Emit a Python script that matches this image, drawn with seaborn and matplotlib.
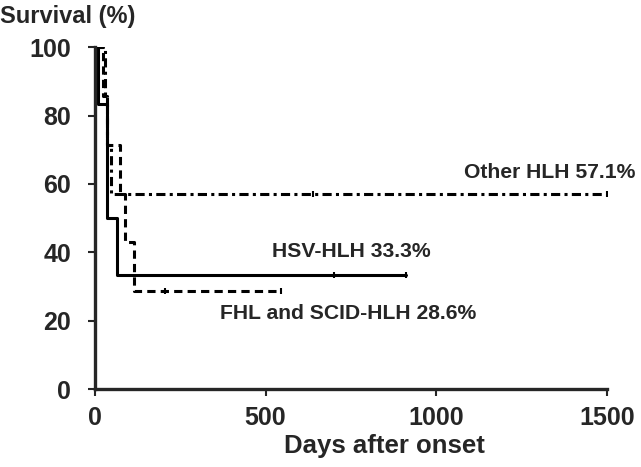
import matplotlib
matplotlib.use("Agg")
import matplotlib.pyplot as plt
import pandas as pd
import seaborn as sns

# Kaplan-Meier step points (days, survival %)
hsv_days = [0, 9, 35, 64, 910]
hsv_surv = [100, 83.3, 50, 33.3, 33.3]
hsv_cens_days = [700, 910]
hsv_cens_surv = [33.3, 33.3]

fhl_days = [0, 25, 35, 73, 88, 114, 545]
fhl_surv = [100, 85.7, 71.4, 57.1, 42.9, 28.6, 28.6]
fhl_cens_days = [205, 545]
fhl_cens_surv = [28.6, 28.6]

other_days = [0, 30, 35, 48, 1500]
other_surv = [100, 85.7, 71.4, 57.1, 57.1]
other_cens_days = [640, 1500]
other_cens_surv = [57.1, 57.1]

x_ticks = [0, 500, 1000, 1500]
y_ticks = [0, 20, 40, 60, 80, 100]

sns.set_style("white")
plt.rcParams['font.family'] = ['Liberation Sans', 'DejaVu Sans']
plt.rcParams['font.weight'] = 'bold'


def km_frame(days, surv, name):
    return pd.DataFrame({'day': days, 'surv': surv, 'group': name})


def main():
    fig = plt.figure(figsize=(6.41, 4.67), dpi=100)
    ax = fig.add_axes([0.148, 0.167, 0.799, 0.732])

    curves = [
        (hsv_days, hsv_surv, hsv_cens_days, hsv_cens_surv, '-', 'HSV'),
        (fhl_days, fhl_surv, fhl_cens_days, fhl_cens_surv, (0, (2.7, 1.7)), 'FHL'),
        (other_days, other_surv, other_cens_days, other_cens_surv,
         (0, (3, 1.4, 1, 1.4)), 'Other'),
    ]
    for days, surv, cd, cs, ls, name in curves:
        df = km_frame(days, surv, name)
        sns.lineplot(data=df, x='day', y='surv', ax=ax, color='black',
                     linewidth=2.2, linestyle=ls, drawstyle='steps-post',
                     estimator=None, sort=False)
        ax.plot(cd, cs, linestyle='none', marker='|', color='black',
                markersize=5, markeredgewidth=1.5)

    ax.set_xlim(0, 1500)
    ax.set_ylim(0, 100)
    ax.set_xticks(x_ticks)
    ax.set_yticks(y_ticks)
    ax.tick_params(axis='both', labelsize=18, width=1.5, length=5,
                   direction='out', bottom=True, left=True)
    ax.tick_params(axis='x', pad=7)
    ax.tick_params(axis='y', pad=12)
    for lab in ax.get_xticklabels() + ax.get_yticklabels():
        lab.set_fontweight('bold')
    sns.despine(ax=ax)
    ax.spines['left'].set_linewidth(2.4)
    ax.spines['bottom'].set_linewidth(2.4)
    ax.set_xlabel('Days after onset', fontsize=18.5, fontweight='bold',
                  labelpad=3, x=0.565)
    ax.set_ylabel('')

    fig.text(0.0, 0.99, 'Survival (%)', fontsize=17, fontweight='bold',
             ha='left', va='top')
    ax.text(1582, 63.2, 'Other HLH 57.1%', fontsize=15.2,
            fontweight='bold', ha='right', va='center')
    ax.text(519, 40.1, 'HSV-HLH 33.3%', fontsize=15.2, fontweight='bold',
            ha='left', va='center')
    ax.text(366, 22.2, 'FHL and SCID-HLH 28.6%', fontsize=15.2,
            fontweight='bold', ha='left', va='center')

    fig.savefig('out.png', dpi=100)


if __name__ == '__main__':
    main()
